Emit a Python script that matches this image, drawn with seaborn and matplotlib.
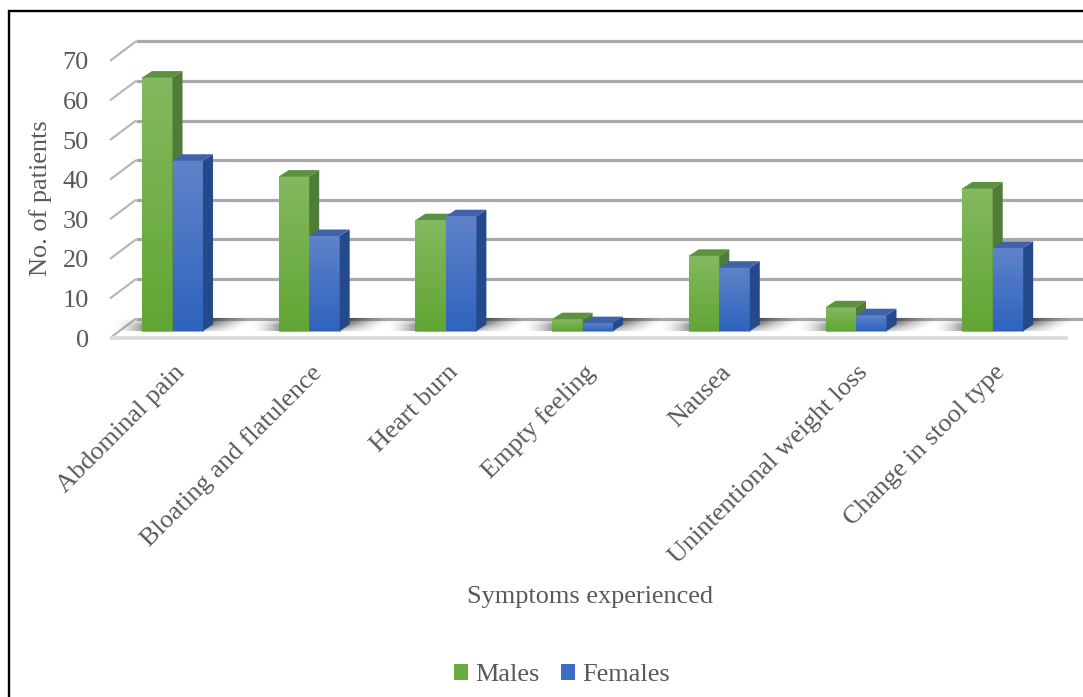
import numpy as np
import pandas as pd
import matplotlib
matplotlib.use("Agg")
import matplotlib.pyplot as plt
import seaborn as sns
from matplotlib.colors import LinearSegmentedColormap
from matplotlib.lines import Line2D
from matplotlib.patches import Patch, Polygon
from matplotlib.transforms import ScaledTranslation

symptoms = ["Abdominal pain", "Bloating and flatulence", "Heart burn", "Empty feeling",
            "Nausea", "Unintentional weight loss", "Change in stool type"]
males = [64, 39, 28, 3, 19, 6, 36]
females = [43, 24, 29, 2, 16, 4, 21]
y_ticks = [0, 10, 20, 30, 40, 50, 60, 70]

W, H = 1083, 697
PX_X = 136.7   # pixels per category
PX_Y = 3.96    # pixels per patient
FONT = 18.9

sns.set_theme(style="white")
plt.rcParams["font.family"] = ["Liberation Serif", "DejaVu Serif"]
TEXT = "#595959"

fig = plt.figure(figsize=(W / 100, H / 100), dpi=100, facecolor="white")
ax = fig.add_axes([110 / W, 1 - 339 / H, (W - 110) / W, (339 - 30) / H])

table = pd.DataFrame({
    "Symptom": symptoms * 2,
    "Patients": males + females,
    "Sex": ["Males"] * len(males) + ["Females"] * len(females),
})
colors = {"Males": "#6aab3e", "Females": "#3c6cc6"}
sns.barplot(data=table, x="Symptom", y="Patients", hue="Sex", palette=colors,
            width=0.446, gap=0, saturation=1, legend=False, ax=ax, zorder=3,
            edgecolor="#a8a8a8", linewidth=0.8)

x_lo, x_hi = (110 - 172.5) / PX_X, (W - 172.5) / PX_X
y_lo, y_hi = -2.0, (331 - 30) / PX_Y
ax.set_xlim(x_lo, x_hi)
ax.set_ylim(y_lo, y_hi)
for side in ax.spines.values():
    side.set_visible(False)

# Depth of the chart box and of the bars, in data units
wall_dx, wall_dy = 26 / PX_X, 19.5 / PX_Y
plane_dy = -7 / PX_Y              # front plane sits below the bar fronts
wall_y0 = plane_dy + wall_dy
wall_x0 = x_lo + wall_dx
bar_dx, bar_dy = 10 / PX_X, 6.5 / PX_Y

# Back-wall gridlines and their returns along the side wall
for v in y_ticks:
    ax.plot([wall_x0, x_hi], [v + wall_y0] * 2, color="#a9a9a9", lw=2.3, zorder=1,
            solid_capstyle="butt", clip_on=False)
    ax.plot([x_lo, wall_x0], [v + plane_dy, v + wall_y0], color="#b4b4b4", lw=1.5, zorder=1,
            solid_capstyle="butt", clip_on=False)

# Front edge of the floor
floor_right = (1068 - 172.5) / PX_X
ax.plot([x_lo, floor_right], [plane_dy, plane_dy], color="#dadada", lw=2.6, zorder=1.2,
        solid_capstyle="butt", clip_on=False)

# Soft shadows cast on the floor beside each cluster
cast = np.zeros((40, 120, 4))
u, t = np.meshgrid(np.linspace(0, 1, 120), np.linspace(0, 1, 40))
cast[..., :3] = 0.15
cast[..., 3] = np.clip(1 - u - 0.3 * t, 0, 1) ** 1.4 * np.clip(1.4 - t, 0, 1) * 0.95
lead = np.zeros((40, 60, 4))
u2, t2 = np.meshgrid(np.linspace(0, 1, 60), np.linspace(0, 1, 40))
lead[..., :3] = 0.35
lead[..., 3] = u2 ** 1.8 * np.clip(t2 * 1.8, 0, 1) * 0.6

male_bars, female_bars = ax.containers[0], ax.containers[1]
for m, f in zip(male_bars, female_bars):
    right = f.get_x() + f.get_width()
    ax.imshow(cast, extent=[right, right + 54 / PX_X, 0, wall_y0], origin="upper",
              aspect="auto", zorder=1.5, interpolation="bilinear")
    left = m.get_x()
    ax.imshow(lead, extent=[left - 30 / PX_X, left, 0, wall_y0], origin="upper",
              aspect="auto", zorder=1.5, interpolation="bilinear")

ramps = {
    "Males": LinearSegmentedColormap.from_list("m", ["#62a534", "#83b95f"]),
    "Females": LinearSegmentedColormap.from_list("f", ["#2f63bd", "#5f83ca"]),
}
faces = {"Males": ("#4f7c36", "#5c9140"), "Females": ("#254a8c", "#4062a8")}
ramp = np.linspace(1, 0, 64).reshape(-1, 1)

# Gradient front, shaded side and lit top for each bar
for order, (sex, bars) in enumerate(zip(["Males", "Females"], [male_bars, female_bars])):
    z = 3 + order
    side_c, top_c = faces[sex]
    for bar in bars:
        x0, w, h = bar.get_x(), bar.get_width(), bar.get_height()
        x1 = x0 + w
        bar.set_zorder(z)
        ax.imshow(ramp, extent=[x0, x1, 0, h], origin="upper", aspect="auto", cmap=ramps[sex],
                  vmin=0, vmax=1, zorder=z + 0.1, interpolation="bilinear")
        ax.add_patch(Polygon([(x1, 0), (x1 + bar_dx, bar_dy), (x1 + bar_dx, h + bar_dy), (x1, h)],
                             closed=True, fc=side_c, ec="none", zorder=z + 0.1))
        ax.add_patch(Polygon([(x0, h), (x1, h), (x1 + bar_dx, h + bar_dy), (x0 + bar_dx, h + bar_dy)],
                             closed=True, fc=top_c, ec="none", zorder=z + 0.1))

ax.set_xlim(x_lo, x_hi)
ax.set_ylim(y_lo, y_hi)

# Value axis
ax.set_yticks(y_ticks)
ax.tick_params(axis="y", length=0, pad=0, labelsize=FONT, labelcolor=TEXT, left=False)
shift_y = ScaledTranslation(-21 / 100, -7 / 100, fig.dpi_scale_trans)
for tl in ax.get_yticklabels():
    tl.set_transform(tl.get_transform() + shift_y)

# Category axis
ax.set_xticks(range(len(symptoms)))
ax.set_xticklabels(symptoms, rotation=45, ha="right", va="top", rotation_mode="anchor",
                   fontsize=FONT, color=TEXT)
ax.tick_params(axis="x", length=0, pad=0, bottom=False)
shift_x = ScaledTranslation(1 / 100, -22 / 100, fig.dpi_scale_trans)
for tl in ax.get_xticklabels():
    tl.set_transform(tl.get_transform() + shift_x)

ax.set_xlabel("Symptoms experienced", fontsize=FONT, color=TEXT)
ax.set_ylabel("No. of patients", fontsize=FONT, color=TEXT)
box_w, box_h = W - 110, 339 - 30
ax.xaxis.set_label_coords((590 - 110) / box_w, (339 - 597) / box_h, ax.transAxes)
ax.xaxis.label.set_verticalalignment("center")
ax.yaxis.set_label_coords((41 - 110) / box_w, (339 - 198) / box_h, ax.transAxes)
ax.yaxis.label.set_verticalalignment("center")

handles = [Patch(fc=colors["Males"], ec="none", label="Males"),
           Patch(fc=colors["Females"], ec="none", label="Females")]
fig.legend(handles=handles, loc="center", bbox_to_anchor=(562 / W, 1 - 675 / H), ncol=2,
           frameon=False, fontsize=FONT, labelcolor=TEXT, handlelength=0.54, handleheight=0.54,
           handletextpad=0.27, columnspacing=0.8, borderpad=0)

# Frame around the figure
fig.add_artist(Line2D([8.5 / W, 8.5 / W, 1], [0, 1 - 10.5 / H, 1 - 10.5 / H],
                      color="black", lw=1.7, solid_joinstyle="miter"))

fig.savefig("out.png", dpi=100)
